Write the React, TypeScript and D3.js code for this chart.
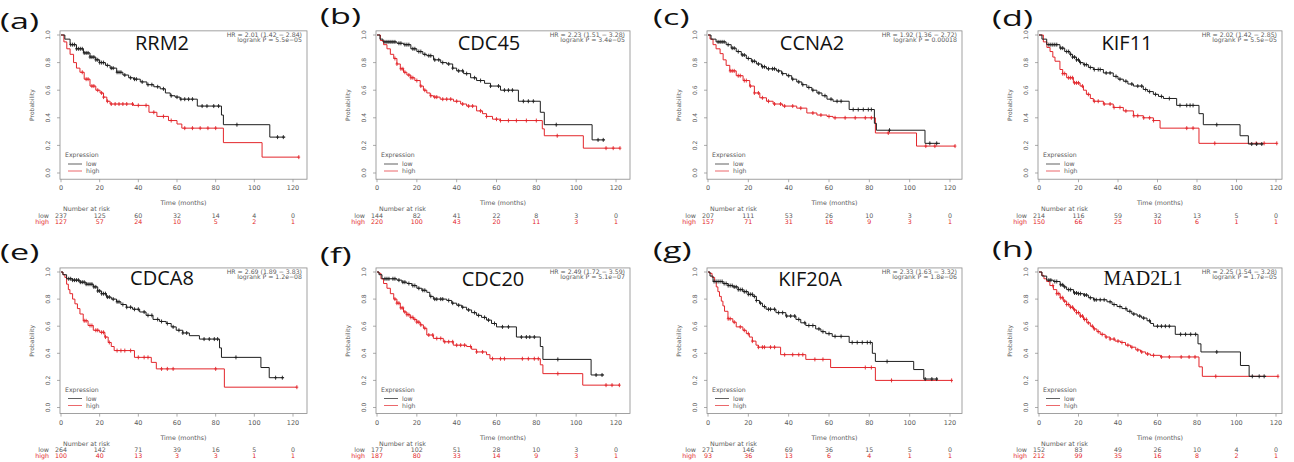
import React from "react";
import * as d3 from "d3";

type Pt = [number, number];

// panel text
const panelLetters = ["(a)", "(b)", "(c)", "(d)", "(e)", "(f)", "(g)", "(h)"];
const geneNames = ["RRM2", "CDC45", "CCNA2", "KIF11", "CDCA8", "CDC20", "KIF20A", "MAD2L1"];
const hrLabels = [
  "HR = 2.01 (1.42 \u2212 2.84)",
  "HR = 2.23 (1.51 \u2212 3.28)",
  "HR = 1.92 (1.36 \u2212 2.72)",
  "HR = 2.02 (1.42 \u2212 2.85)",
  "HR = 2.69 (1.89 \u2212 3.83)",
  "HR = 2.49 (1.72 \u2212 3.59)",
  "HR = 2.33 (1.63 \u2212 3.32)",
  "HR = 2.25 (1.54 \u2212 3.28)",
];
const pLabels = [
  "logrank P = 5.5e\u221205",
  "logrank P = 3.4e\u221205",
  "logrank P = 0.00018",
  "logrank P = 5.5e\u221205",
  "logrank P = 1.2e\u221208",
  "logrank P = 5.1e\u221207",
  "logrank P = 1.8e\u221206",
  "logrank P = 1.7e\u221205",
];

const timeTicks = [0, 20, 40, 60, 80, 100, 120];
const probTicks = [0, 0.2, 0.4, 0.6, 0.8, 1];

// number at risk
const riskLow = [
  [237, 125, 60, 32, 14, 4, 0],
  [144, 82, 41, 22, 8, 3, 0],
  [207, 111, 53, 26, 10, 3, 0],
  [214, 116, 59, 32, 13, 5, 0],
  [264, 142, 71, 39, 16, 5, 0],
  [177, 102, 51, 28, 10, 3, 0],
  [271, 146, 69, 36, 15, 5, 0],
  [152, 83, 49, 26, 10, 4, 0],
];
const riskHigh = [
  [127, 57, 24, 10, 5, 2, 1],
  [220, 100, 43, 20, 11, 3, 1],
  [157, 71, 31, 16, 9, 3, 1],
  [150, 66, 25, 10, 6, 1, 1],
  [100, 40, 13, 3, 3, 1, 1],
  [187, 80, 33, 14, 9, 3, 1],
  [93, 36, 13, 6, 4, 1, 1],
  [212, 99, 35, 16, 8, 2, 1],
];

// survival steps [months, probability]; censor marks as months
const rrm2Low: Pt[] = [[0,1],[2,0.97],[4.7,0.93],[8,0.9],[11.6,0.87],[15,0.84],[18,0.82],[20,0.8],[23,0.78],[25.4,0.76],[28.8,0.73],[32,0.71],[35,0.69],[37.5,0.68],[41,0.66],[44.4,0.64],[48,0.625],[51.3,0.61],[54,0.58],[56.5,0.56],[59,0.55],[61.6,0.535],[70.5,0.485],[83,0.42],[84,0.35],[108,0.26],[116,0.26]];
const rrm2LowCens = [5,6,7,8,9,10,11,12,13,14,15,16,17,18,19,20,21,22,24,26,27,29,30,31,33,36,38,39,42,45,47,50,53,57,60,62,64,66,68,73,75.5,79,81.5,91,112,115];
const rrm2High: Pt[] = [[0,1],[1.5,0.95],[3,0.9],[4.7,0.86],[6.5,0.8],[8,0.76],[9.8,0.73],[12,0.68],[15,0.63],[18,0.6],[20.2,0.58],[22,0.55],[23.7,0.52],[25.4,0.5],[37.5,0.49],[45.5,0.44],[49.6,0.41],[55.6,0.38],[60,0.355],[62.5,0.325],[84,0.22],[104,0.115],[123,0.115]];
const rrm2HighCens = [11,13,14,16,17,19,21,22,24,26,28,30,32,34,37,40,44,48,53,57,64,68,72,76,80,123];

const cdc45Low: Pt[] = [[0,1],[1.5,0.97],[3,0.95],[10,0.94],[13.4,0.93],[17,0.9],[20,0.88],[23,0.86],[25,0.85],[28.4,0.82],[32,0.8],[35,0.79],[38,0.76],[40,0.74],[43.5,0.72],[47,0.69],[50,0.67],[54,0.65],[57,0.63],[62,0.6],[71,0.52],[82,0.44],[84,0.35],[108,0.24],[114.5,0.24]];
const cdc45LowCens = [4,5,6,7,8,9,11,12,14,15,16,18,19,21,22,24,26,27,29,31,33,36,38,41,43,45,49,52,57,61,64,66,68,73.5,76,78.5,90,111,113.6];
const cdc45High: Pt[] = [[0,1],[1.7,0.96],[3.3,0.93],[5,0.9],[6.7,0.86],[8.4,0.83],[10,0.79],[11.7,0.755],[13.3,0.73],[15,0.71],[17,0.69],[19,0.67],[21.7,0.63],[23.3,0.6],[25,0.58],[26.7,0.56],[28.4,0.55],[31.7,0.535],[38.4,0.52],[42,0.5],[45,0.485],[50,0.45],[53,0.43],[55,0.41],[58,0.39],[62,0.38],[83,0.32],[84,0.27],[103.6,0.18],[122,0.18]];
const cdc45HighCens = [9,10,12,13,14,16,17,18,20,22,24,27,29,30,33,35,37,40,43,46,48,52,55,60,62,66,70,75,80,90.5,115,118.6,122];

const ccna2Low: Pt[] = [[0,1],[1.5,0.97],[4,0.95],[9,0.93],[11.5,0.905],[14,0.88],[16.5,0.855],[19,0.83],[21.5,0.81],[24,0.79],[26.5,0.77],[29,0.755],[34,0.74],[36.5,0.72],[39,0.705],[41.5,0.68],[44,0.66],[46.5,0.64],[49,0.62],[51.5,0.6],[54,0.58],[56.5,0.56],[59,0.535],[62,0.52],[70,0.46],[82.5,0.36],[83.5,0.31],[107.6,0.215],[115,0.215]];
const ccna2LowCens = [5,6,7,8,10,12,13,15,17,18,20,22,23,25,27,28,30,32,33,35,37,40,42,45,47,50,52,55,58,61,64,66,72,74.5,77,79.5,81,90,110,113.4];
const ccna2High: Pt[] = [[0,1],[1,0.97],[2.5,0.93],[4,0.9],[6,0.865],[7.5,0.82],[9,0.78],[10.8,0.74],[14,0.705],[17.4,0.67],[20.7,0.63],[23,0.58],[25.7,0.545],[29,0.52],[32.3,0.5],[37,0.485],[44,0.47],[49,0.435],[54,0.42],[59,0.41],[62,0.4],[83,0.29],[103.4,0.195],[122.5,0.195]];
const ccna2HighCens = [11,12,13,15,16,18,19,21,23,25,27,30,33,36,38,42,46,52,56,60,63,68,73,78,81,89.4,108,112.5,122.5];

const kif11Low: Pt[] = [[0,1],[1.5,0.97],[3.9,0.93],[10.6,0.905],[13,0.88],[15.7,0.86],[17,0.84],[19,0.82],[20.5,0.8],[22.4,0.785],[25,0.765],[27.5,0.75],[32.6,0.725],[37.6,0.7],[40,0.68],[42.7,0.665],[45,0.645],[47.8,0.63],[52.8,0.605],[55,0.59],[57.9,0.57],[60.5,0.555],[63,0.54],[69.7,0.49],[81,0.43],[83.2,0.35],[101.8,0.27],[106,0.21],[113.6,0.21]];
const kif11LowCens = [5,6,7,8,9,11,12,14,15,16,17,18,19,20,21,23,24,26,28,30,31,34,36,39,41,44,47,50,52,54,56,59,62,66,71.4,74.8,76.5,78,90,107.7,110.2,112.8];
const kif11High: Pt[] = [[0,1],[2.2,0.95],[4,0.91],[5.6,0.88],[7,0.84],[8.1,0.81],[10.6,0.75],[12,0.72],[14,0.69],[17.4,0.653],[20.8,0.63],[22.5,0.6],[24,0.57],[26,0.54],[27.5,0.52],[32.6,0.5],[37.6,0.475],[42.7,0.45],[47.8,0.415],[52.8,0.4],[57.9,0.38],[61.3,0.325],[81,0.215],[120.4,0.215]];
const kif11HighCens = [12,13,15,16,17,18,19,20,22,25,28,30,33,36,38,41,44,48,50,53,56,58,74.8,78,89,110,114,120.4];

const cdca8Low: Pt[] = [[0,1],[1,0.98],[2.9,0.95],[6,0.94],[9.8,0.925],[13,0.91],[16.7,0.89],[19,0.86],[21,0.84],[23.5,0.815],[26,0.8],[28.7,0.78],[31,0.76],[33.8,0.74],[37,0.725],[40.7,0.705],[44,0.68],[47.6,0.65],[51,0.635],[54.4,0.62],[57,0.595],[59.6,0.57],[63,0.55],[66.4,0.53],[71.6,0.505],[82,0.44],[83,0.37],[103.4,0.295],[107.7,0.22],[115.4,0.22]];
const cdca8LowCens = [4,5,6,7,8,9,10,11,12,13,14,15,16,17,18,19,20,21,22,23,24,25,27,29,30,32,34,36,38,40,43,45,47,50,52,55,58,61,63,65,74,76.7,79.3,81,90.5,111,114.5];
const cdca8High: Pt[] = [[0,1],[1,0.98],[2,0.96],[2.9,0.91],[3.8,0.87],[4.6,0.84],[6,0.8],[7.2,0.765],[8.5,0.73],[9.8,0.69],[11.5,0.64],[14,0.605],[16.7,0.57],[20,0.555],[22.7,0.52],[24.4,0.48],[26,0.45],[27.5,0.42],[38,0.37],[46.7,0.333],[49.3,0.285],[84.5,0.15],[122,0.15]];
const cdca8HighCens = [12,13,15,16,18,19,21,22,23,25,29,31,33,36,40,43,45,52,55,58,80,122];

const cdc20Low: Pt[] = [[0,1],[1,0.98],[2.5,0.95],[10,0.94],[12.5,0.925],[15,0.915],[17.5,0.9],[20,0.88],[22.5,0.865],[25,0.85],[26.5,0.82],[28.3,0.8],[35,0.79],[37.5,0.77],[40,0.755],[42.5,0.74],[45,0.72],[47.5,0.7],[50,0.68],[52.5,0.665],[55,0.645],[57.5,0.62],[60,0.595],[70,0.52],[82,0.45],[83.3,0.355],[107.5,0.24],[114,0.24]];
const cdc20LowCens = [4,5,6,8,9,11,13,14,16,18,19,21,23,24,27,29,30,32,33,36,38,41,43,46,49,51,54,56,59,63,66,72.5,75,76.7,79,90.8,110,113];
const cdc20High: Pt[] = [[0,1],[1,0.99],[2,0.95],[3.3,0.915],[5,0.88],[6.7,0.84],[8.4,0.8],[10,0.77],[11.7,0.735],[13.3,0.705],[15,0.685],[16.7,0.665],[18.4,0.65],[20,0.63],[21.7,0.61],[23.3,0.585],[25,0.535],[28.3,0.51],[33.3,0.485],[38.3,0.46],[45,0.45],[47.5,0.43],[50,0.41],[55,0.39],[56.7,0.36],[82,0.315],[83.3,0.25],[103.3,0.165],[121.7,0.165]];
const cdc20HighCens = [9,10,11,12,13,14,15,16,17,18,19,20,21,22,24,26,28,30,32,34,36,38,40,42,44,47,50,53,58,62,64,73,76,79,81,90.8,115,118,121.7];

const kif20aLow: Pt[] = [[0,1],[1,0.97],[2.5,0.93],[7.4,0.915],[10,0.9],[12.3,0.89],[15,0.87],[17.3,0.855],[20,0.835],[22.2,0.82],[24,0.79],[25.5,0.77],[27,0.745],[28.8,0.725],[33.7,0.7],[38.6,0.675],[43.6,0.65],[46,0.625],[48.5,0.605],[53.4,0.58],[56,0.56],[58.4,0.545],[61.6,0.525],[70,0.48],[81.5,0.4],[83,0.34],[102,0.28],[107,0.21],[114,0.21]];
const kif20aLowCens = [3,4,5,6,7,8,9,10,11,12,13,14,15,16,17,18,19,20,21,22,23,24,26,28,30,31,33,35,37,39,41,43,45,48,50,52,55,57,60,63,66,71.5,74,76.5,79,80.5,88.8,107.7,111,113.4];
const kif20aHigh: Pt[] = [[0,1],[0.8,0.99],[2,0.96],[3.3,0.93],[4.1,0.89],[4.9,0.855],[5.7,0.82],[6.6,0.785],[7.4,0.75],[8.2,0.71],[9.9,0.655],[12.3,0.63],[14,0.595],[17.3,0.57],[19,0.545],[20.5,0.52],[22,0.49],[23.8,0.46],[25,0.445],[36,0.39],[48.5,0.355],[60.8,0.295],[83,0.2],[120.8,0.2]];
const kif20aHighCens = [10,11,13,16,18,20,22,25,27,28,31,33,38,42,45,47,53,57,78,81,91,120.8];

const mad2l1Low: Pt[] = [[0,1],[1.5,0.97],[3.9,0.94],[7.3,0.93],[10.7,0.905],[12.5,0.89],[14,0.87],[17.5,0.845],[20,0.84],[22.5,0.83],[25,0.81],[27.6,0.795],[34.4,0.78],[37,0.76],[39.5,0.745],[42,0.73],[44.6,0.71],[47,0.69],[49.7,0.675],[52,0.66],[54.7,0.64],[56.5,0.62],[58,0.6],[69,0.54],[80.5,0.47],[82,0.41],[102,0.31],[106.4,0.23],[115,0.23]];
const mad2l1LowCens = [5,6,8,9,11,12,13,15,16,18,19,20,21,23,24,26,28,29,31,33,36,38,41,44,46,48,51,53,56,60,62,64,66,71.7,74.2,76.8,79.3,90,108,111.5,114];
const mad2l1High: Pt[] = [[0,1],[1.4,0.975],[2.5,0.95],[3.9,0.93],[5.5,0.9],[7.3,0.87],[9,0.84],[10.7,0.81],[12.3,0.785],[14,0.76],[15.7,0.74],[17.5,0.72],[19,0.7],[20.8,0.675],[22.5,0.65],[24.2,0.625],[26,0.6],[27.6,0.58],[29.3,0.56],[31,0.54],[33.5,0.52],[36,0.505],[38.5,0.49],[41.2,0.48],[43.8,0.46],[46.3,0.445],[49,0.425],[51.4,0.41],[54,0.395],[56.4,0.385],[61.5,0.373],[81,0.3],[82.7,0.23],[121,0.23]];
const mad2l1HighCens = [7,9,10,11,12,13,14,15,16,17,18,19,20,21,22,23,24,25,27,28,30,32,34,36,38,40,42,45,47,50,52,55,58,62,66,72,76,79,89.5,121];

const curves = [
  { low: rrm2Low, lowCens: rrm2LowCens, high: rrm2High, highCens: rrm2HighCens },
  { low: cdc45Low, lowCens: cdc45LowCens, high: cdc45High, highCens: cdc45HighCens },
  { low: ccna2Low, lowCens: ccna2LowCens, high: ccna2High, highCens: ccna2HighCens },
  { low: kif11Low, lowCens: kif11LowCens, high: kif11High, highCens: kif11HighCens },
  { low: cdca8Low, lowCens: cdca8LowCens, high: cdca8High, highCens: cdca8HighCens },
  { low: cdc20Low, lowCens: cdc20LowCens, high: cdc20High, highCens: cdc20HighCens },
  { low: kif20aLow, lowCens: kif20aLowCens, high: kif20aHigh, highCens: kif20aHighCens },
  { low: mad2l1Low, lowCens: mad2l1LowCens, high: mad2l1High, highCens: mad2l1HighCens },
];

// layout (pixels)
const colX0 = [61, 377, 708, 1039];
const colX120 = [293, 616, 950, 1276];
const colBoxRight = [307, 630, 962, 1282];
const rowY1 = [35, 272];
const rowY0 = [173, 407.5];
const geneCx = [162, 489, 812, 1127, 162, 493, 810, 1143];
const geneBase = [50, 50, 50, 50, 285, 286, 286, 285];
const letterX = [0, 320, 653, 992, 0, 320, 653, 992];
const letterY = [29, 24, 25, 26, 260, 263, 258, 257];

const LOW = "#1e1e1e";
const HIGH = "#e3262b";
const TXT = "#5a5a5a";
const SMALL = "DejaVu Sans, sans-serif";

function survAt(c: Pt[], t: number) {
  let s = 1;
  for (const [ti, si] of c) {
    if (ti <= t) s = si;
    else break;
  }
  return s;
}

function Panel({ i }: { i: number }) {
  const col = i % 4;
  const row = Math.floor(i / 4);
  const x = d3.scaleLinear().domain([0, 120]).range([colX0[col], colX120[col]]);
  const y = d3.scaleLinear().domain([0, 1]).range([rowY0[row], rowY1[row]]);
  const boxL = colX0[col] - 1;
  const boxR = colBoxRight[col];
  const boxT = y(1.03);
  const boxB = y(-0.045);
  const line = d3
    .line<Pt>()
    .x((d) => x(d[0]))
    .y((d) => y(d[1]))
    .curve(d3.curveStepAfter);
  const c = curves[i];
  const cens = (arr: number[], curve: Pt[]) =>
    arr
      .map((t) => {
        const cx = x(t);
        const cy = y(survAt(curve, t));
        return `M${cx - 1.4},${cy}h2.8M${cx},${cy - 2}v4`;
      })
      .join("");
  const midY = (boxT + boxB) / 2;
  const isSerif = geneNames[i] === "MAD2L1";
  return (
    <g>
      <text
        transform={`translate(${letterX[i]},${letterY[i]}) scale(1.55,1)`}
        fontFamily="Open Sans, sans-serif"
        fontSize={22}
        fill="#111"
      >
        {panelLetters[i]}
      </text>
      <rect x={boxL} y={boxT} width={boxR - boxL} height={boxB - boxT} fill="none" stroke="#8a8a8a" strokeWidth={0.8} />
      {/* y axis */}
      {probTicks.map((p) => (
        <g key={p}>
          <line x1={boxL} x2={boxL - 3} y1={y(p)} y2={y(p)} stroke="#8a8a8a" strokeWidth={0.7} />
          <text
            transform={`translate(${boxL - 10},${y(p)}) rotate(-90)`}
            textAnchor="middle"
            fontFamily={SMALL}
            fontSize={6}
            fill={TXT}
          >
            {d3.format(".1f")(p)}
          </text>
        </g>
      ))}
      <text
        transform={`translate(${boxL - 26},${midY}) rotate(-90)`}
        textAnchor="middle"
        fontFamily={SMALL}
        fontSize={6}
        fill={TXT}
      >
        Probability
      </text>
      {/* x axis */}
      {timeTicks.map((t) => (
        <g key={t}>
          <line x1={x(t)} x2={x(t)} y1={boxB} y2={boxB + 3} stroke="#8a8a8a" strokeWidth={0.7} />
          <text x={x(t)} y={boxB + 11} textAnchor="middle" fontFamily={SMALL} fontSize={6.5} fill={TXT}>
            {t}
          </text>
        </g>
      ))}
      <text x={(boxL + boxR) / 2} y={boxB + 26} textAnchor="middle" fontFamily={SMALL} fontSize={6.3} fill={TXT}>
        Time (months)
      </text>
      {/* curves */}
      <path d={line(c.high) || ""} fill="none" stroke={HIGH} strokeWidth={1} />
      <path d={cens(c.highCens, c.high)} fill="none" stroke={HIGH} strokeWidth={0.9} />
      <path d={line(c.low) || ""} fill="none" stroke={LOW} strokeWidth={1} />
      <path d={cens(c.lowCens, c.low)} fill="none" stroke={LOW} strokeWidth={0.9} />
      {/* gene + stats */}
      <text
        x={geneCx[i]}
        y={geneBase[i]}
        textAnchor="middle"
        fontFamily={isSerif ? "Liberation Serif, serif" : "Open Sans, sans-serif"}
        fontSize={20}
        fill="#111"
      >
        {geneNames[i]}
      </text>
      <text x={boxR - 5} y={boxT + 6} textAnchor="end" fontFamily={SMALL} fontSize={6.2} fill={TXT}>
        {hrLabels[i]}
      </text>
      <text x={boxR - 5} y={boxT + 11} textAnchor="end" fontFamily={SMALL} fontSize={6.2} fill={TXT}>
        {pLabels[i]}
      </text>
      {/* legend */}
      <text x={boxL + 5} y={y(0) - 16} fontFamily={SMALL} fontSize={6.2} fill={TXT}>
        Expression
      </text>
      <line x1={boxL + 8} x2={boxL + 22} y1={y(0) - 9} y2={y(0) - 9} stroke={LOW} strokeWidth={0.7} />
      <text x={boxL + 26} y={y(0) - 7} fontFamily={SMALL} fontSize={6.2} fill={TXT}>
        low
      </text>
      <line x1={boxL + 8} x2={boxL + 22} y1={y(0) - 2} y2={y(0) - 2} stroke={HIGH} strokeWidth={0.7} />
      <text x={boxL + 26} y={y(0)} fontFamily={SMALL} fontSize={6.2} fill={TXT}>
        high
      </text>
      {/* number at risk */}
      <text x={x(0) + 2} y={boxB + 32} fontFamily={SMALL} fontSize={6.3} fill={TXT}>
        Number at risk
      </text>
      <text x={x(0) - 12} y={boxB + 38.5} textAnchor="end" fontFamily={SMALL} fontSize={6.3} fill={TXT}>
        low
      </text>
      <text x={x(0) - 12} y={boxB + 44.5} textAnchor="end" fontFamily={SMALL} fontSize={6.3} fill={HIGH}>
        high
      </text>
      {timeTicks.map((t, k) => (
        <g key={"r" + t}>
          <text x={x(t)} y={boxB + 38.5} textAnchor="middle" fontFamily={SMALL} fontSize={6.3} fill={TXT}>
            {riskLow[i][k]}
          </text>
          <text x={x(t)} y={boxB + 44.5} textAnchor="middle" fontFamily={SMALL} fontSize={6.3} fill={HIGH}>
            {riskHigh[i][k]}
          </text>
        </g>
      ))}
    </g>
  );
}

export default function App() {
  return (
    <svg
      width={1294}
      height={462}
      viewBox="0 0 1294 462"
      style={{ position: "absolute", left: 0, top: 0, background: "#fff" }}
    >
      <rect width={1294} height={462} fill="#fff" />
      {geneNames.map((_, i) => (
        <Panel key={i} i={i} />
      ))}
    </svg>
  );
}
